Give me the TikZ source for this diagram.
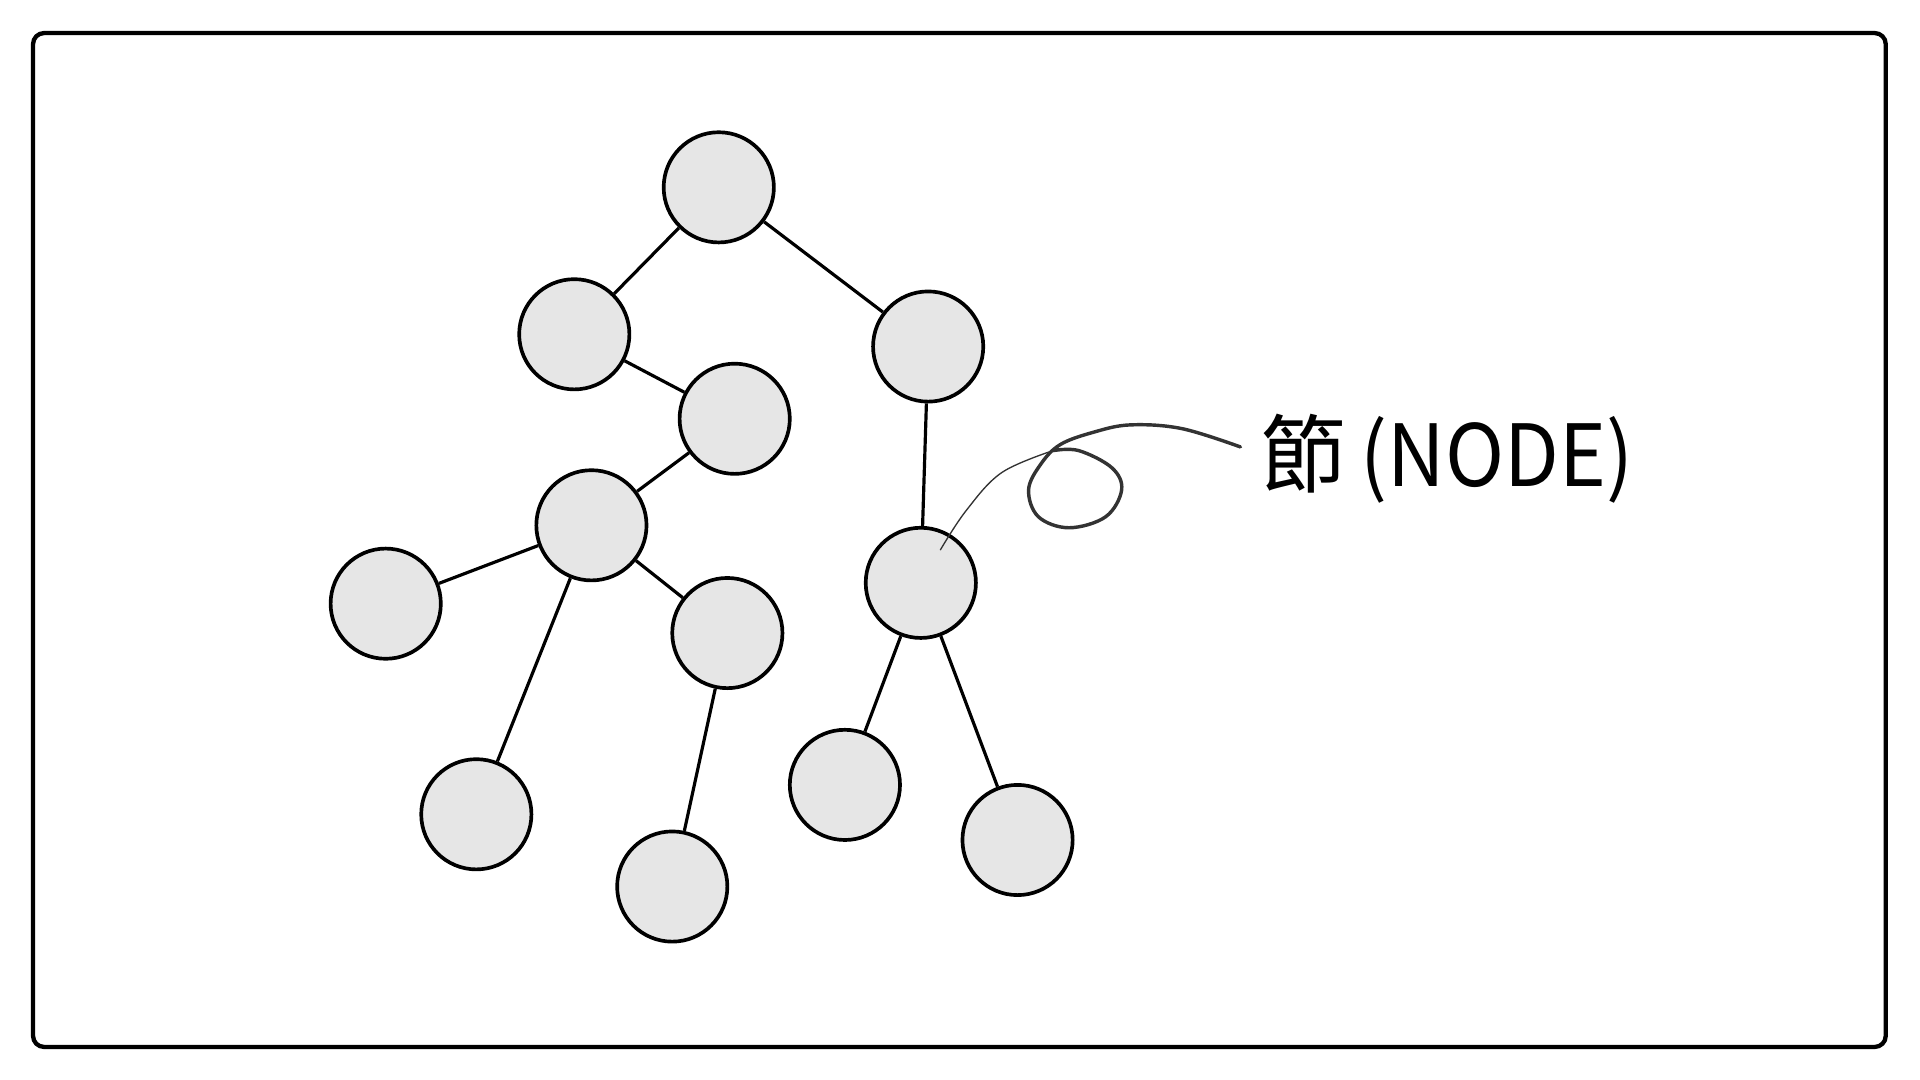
\documentclass[tikz,border=0pt]{standalone}
\usepackage{fontspec}
\newfontfamily\cjk{Noto Sans CJK TC}
\begin{document}
\begin{tikzpicture}[x=1pt,y=-1pt,
  tnode/.style={circle,draw=black,fill=nodegray,line width=3pt,minimum size=90pt,inner sep=0pt},
  tedge/.style={draw=black,line width=2.6pt},
  pencil/.style={draw=pencilgray,line cap=round,line join=round}]
\definecolor{nodegray}{HTML}{E6E6E6}
\definecolor{pencilgray}{HTML}{333333}
\useasboundingbox (0,0) rectangle (1568,882);
\draw[line width=3.5pt,rounded corners=9pt] (27,27) rectangle (1540,855);
% nodes
\node[tnode] (n1) at (587,153) {};
\node[tnode] (n2) at (469,273) {};
\node[tnode] (n3) at (758,283) {};
\node[tnode] (n4) at (600,342) {};
\node[tnode] (n5) at (483,429) {};
\node[tnode] (n6) at (315,493) {};
\node[tnode] (n7) at (594,517) {};
\node[tnode] (n8) at (389,665) {};
\node[tnode] (n9) at (549,724) {};
\node[tnode] (n10) at (752,476) {};
\node[tnode] (n11) at (690,641) {};
\node[tnode] (n12) at (831,686) {};
% edges
\path[tedge] (n1) -- (n2);
\path[tedge] (n1) -- (n3);
\path[tedge] (n2) -- (n4);
\path[tedge] (n4) -- (n5);
\path[tedge] (n5) -- (n6);
\path[tedge] (n5) -- (n8);
\path[tedge] (n5) -- (n7);
\path[tedge] (n7) -- (n9);
\path[tedge] (n3) -- (n10);
\path[tedge] (n10) -- (n11);
\path[tedge] (n10) -- (n12);
% label
\node[anchor=base west,inner sep=0pt,font=\cjk\fontsize{70pt}{80pt}\selectfont] (lbl) at (1029,397) {節\hspace{12pt}\scalebox{0.93}[1]{(NODE)}};
% pencil annotation
\coordinate (ptr) at (768,449);
\coordinate (cross) at (860,368);
\coordinate (tail) at (1013,365);
\draw[pencil,line width=1.1pt] plot[smooth,tension=0.6] coordinates {(ptr) (789,417) (818,386) (cross)};
\draw[pencil,line width=2.8pt] plot[smooth,tension=0.6] coordinates {(cross) (881,368) (908,382) (916,400) (903,422) (873,431) (848,422) (840,400) (850,379) (866,363) (893,353) (923,347) (965,350) (tail)};
\end{tikzpicture}
\end{document}
